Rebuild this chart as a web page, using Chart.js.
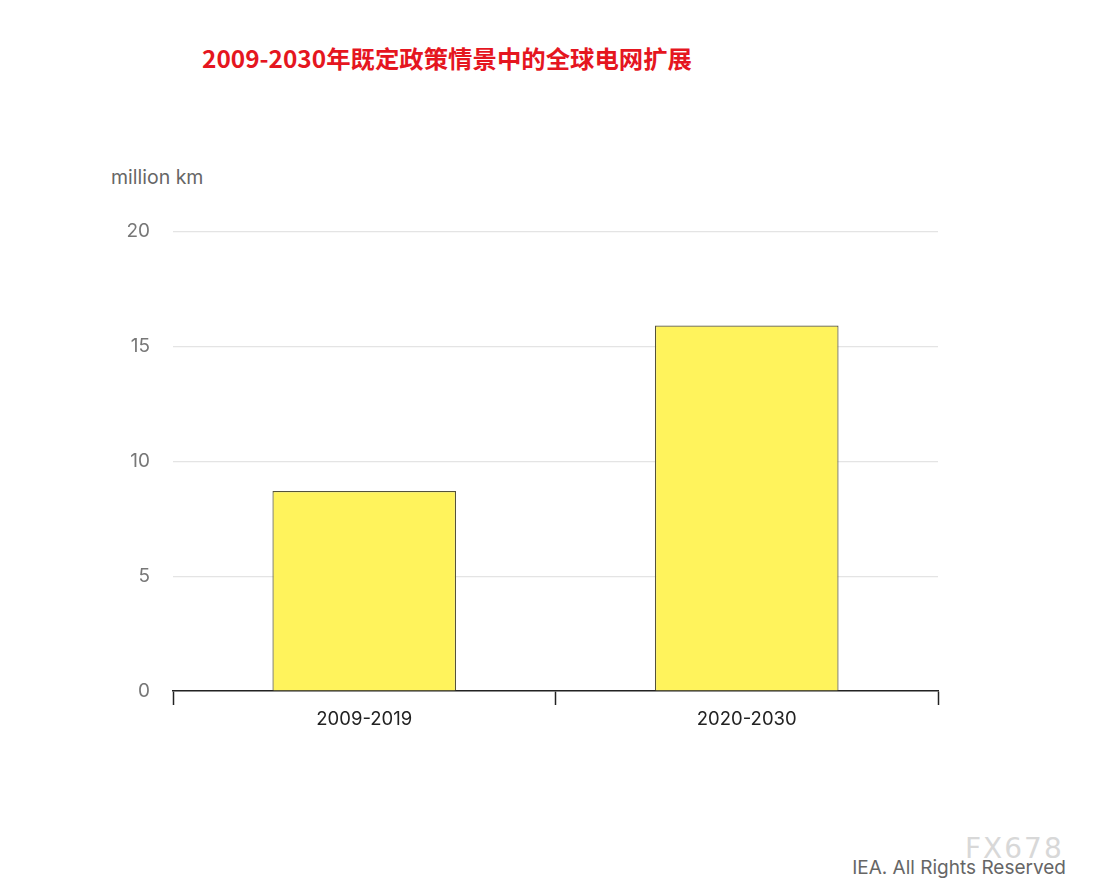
<!DOCTYPE html>
<html>
<head>
<meta charset="utf-8">
<script src="https://cdn.jsdelivr.net/npm/chart.js@4"></script>
<style>
    body { margin: 0; background: #fff; width: 1095px; height: 887px; position: relative; overflow: hidden; font-family: Inter, "Open Sans", sans-serif; }
    .title { position: absolute; left: 202px; top: 40px; font-family: "Noto Sans CJK SC", sans-serif; font-weight: 700; font-size: 24.4px; color: #e5161f; white-space: nowrap; }
    .unit { position: absolute; left: 111px; top: 165px; font-size: 19.5px; color: #666; }
    .credit { position: absolute; right: 29px; top: 856px; font-size: 19px; color: #666; }
    .mark { position: absolute; left: 965px; top: 832px; font-size: 28px; color: #d8d8d8; letter-spacing: 2px; font-family: "DejaVu Sans", sans-serif; }
    .chart-box { position: absolute; left: 100px; top: 197px; width: 845px; height: 544px; }
</style>
</head>
<body>
<div class="title">2009-2030年既定政策情景中的全球电网扩展</div>
<div class="unit">million km</div>
<div class="chart-box"><canvas id="gridChart"></canvas></div>
<div class="mark">FX678</div>
<div class="credit">IEA. All Rights Reserved</div>

<script>
// values (million km of grid lines added)
const periods = ['2009-2019', '2020-2030'];
const gridAdded = [8.7, 15.9];
const yTicks = [0, 5, 10, 15, 20];

const ctx = document.getElementById('gridChart');

new Chart(ctx, {
    type: 'bar',
    data: {
        labels: periods,
        datasets: [{
            label: 'Grid expansion',
            data: gridAdded,
            backgroundColor: '#fff35c',
            borderColor: '#55533a',
            borderWidth: 1.2,
            barPercentage: 0.96,
            categoryPercentage: 0.5
        }]
    },
    options: {
        responsive: true,
        maintainAspectRatio: false,
        animation: false,
        layout: { padding: { top: 15, right: 7, left: 0, bottom: 0 } },
        scales: {
            x: {
                offset: true,
                grid: {
                    offset: true,
                    drawOnChartArea: false,
                    drawTicks: true,
                    tickLength: 14,
                    tickColor: '#222',
                    tickWidth: 1.5
                },
                border: { display: true, color: '#222', width: 1.5 },
                ticks: { color: '#222', padding: 3, font: { family: 'Inter', size: 18.5 } },
                afterFit: (axis) => { axis.height = 50; }
            },
            y: {
                min: 0,
                max: 20,
                afterBuildTicks: (axis) => { axis.ticks = yTicks.map(v => ({ value: v })); },
                grid: { color: '#e4e4e4', lineWidth: 1.2, drawTicks: false },
                border: { display: false },
                ticks: { color: '#777', padding: 23, font: { family: 'Inter', size: 19 } },
                afterFit: (axis) => { axis.width = 73; }
            }
        },
        plugins: {
            legend: { display: false },
            tooltip: { enabled: false }
        }
    }
});
</script>
</body>
</html>
